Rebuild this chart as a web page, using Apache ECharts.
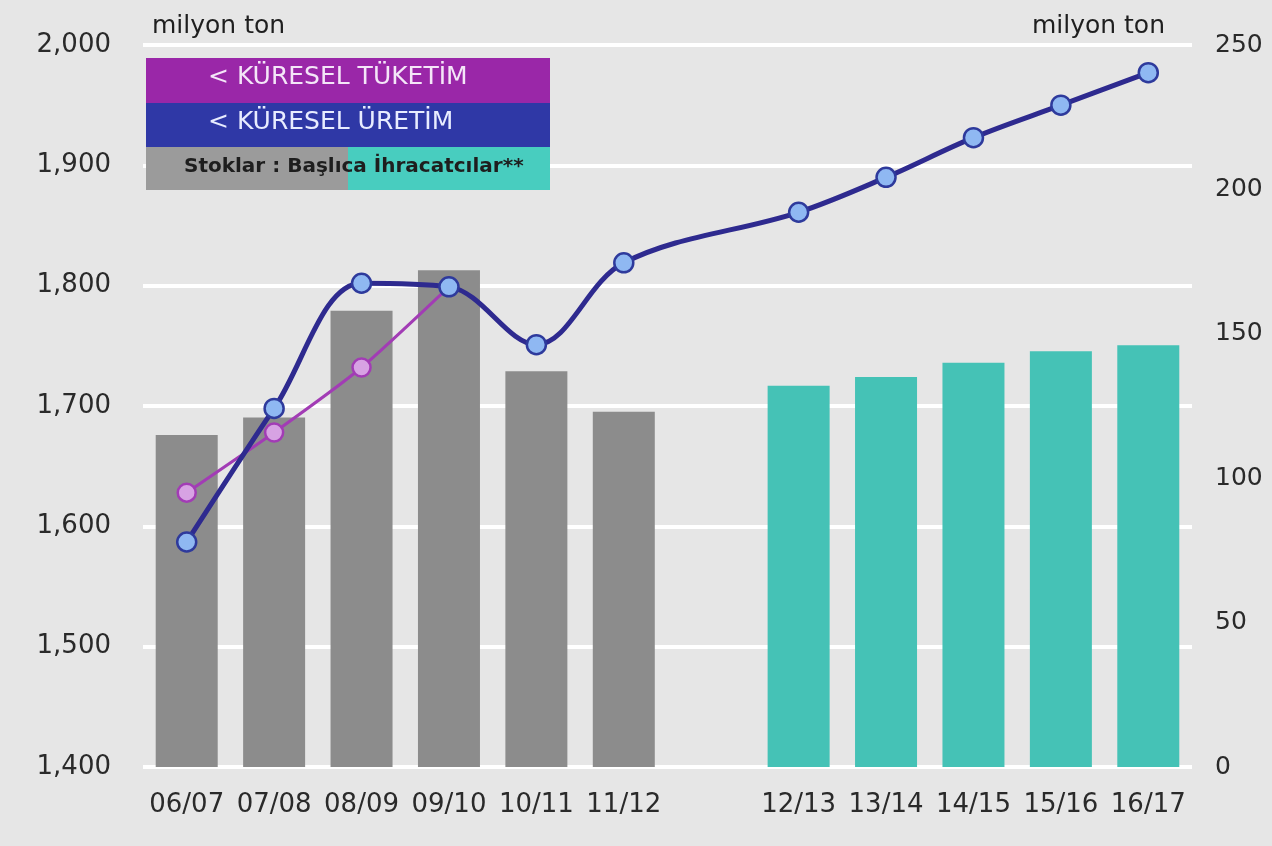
<!DOCTYPE html>
<html>
<head>
<meta charset="utf-8">
<script src="https://cdn.jsdelivr.net/npm/echarts@6/dist/echarts.min.js"></script>
<style>
  html, body { margin: 0; padding: 0; background: #e6e6e6; }
  #chart { width: 1272px; height: 846px; }
</style>
</head>
<body>
<div id="chart"></div>
<script>
// Marketing years; the empty slot separates actual years from projections
const categories = ['06/07', '07/08', '08/09', '09/10', '10/11', '11/12', '', '12/13', '13/14', '14/15', '15/16', '16/17'];

// Global production and consumption, million tonnes (left axis)
const production  = [1587, 1698, 1802, 1799, 1751, 1819, null, 1861, 1890, 1923, 1950, 1977];
const consumption = [1628, 1678, 1732, 1799, null, null, null, null, null, null, null, null];

// Stocks of major exporters, million tonnes (right axis)
const stocksActual    = [115, 121, 158, 172, 137, 123, null, null, null, null, null, null];
const stocksProjected = [null, null, null, null, null, null, null, 132, 135, 140, 144, 146];

const leftTicks  = { min: 1400, max: 2000, interval: 100 };
const rightTicks = { min: 0, max: 250, interval: 50 };

const FONT = '"DejaVu Sans", Verdana, sans-serif';
const TEXT = '#2a2a2a';

const chart = echarts.init(document.getElementById('chart'), null, { renderer: 'canvas' });

chart.setOption({
  backgroundColor: '#e6e6e6',
  animation: false,
  grid: { left: 143, right: 80, top: 45, bottom: 79 },
  xAxis: {
    type: 'category',
    data: categories,
    axisLine: { show: false },
    axisTick: { show: false },
    axisLabel: { color: TEXT, fontFamily: FONT, fontSize: 26, margin: 25, interval: 0 }
  },
  yAxis: [
    {
      type: 'value',
      min: leftTicks.min, max: leftTicks.max, interval: leftTicks.interval,
      axisLine: { show: false },
      axisTick: { show: false },
      axisLabel: {
        color: TEXT, fontFamily: FONT, fontSize: 26, margin: 32,
        formatter: v => v.toLocaleString('en-US')
      },
      splitLine: { show: true, lineStyle: { color: '#ffffff', width: 4 } }
    },
    {
      type: 'value',
      min: rightTicks.min, max: rightTicks.max, interval: rightTicks.interval,
      axisLine: { show: false },
      axisTick: { show: false },
      axisLabel: { color: TEXT, fontFamily: FONT, fontSize: 25, margin: 23 },
      splitLine: { show: false }
    }
  ],
  series: [
    {
      name: 'Stoklar',
      type: 'bar',
      yAxisIndex: 1,
      stack: 'stok',
      barWidth: 62,
      data: stocksActual,
      itemStyle: { color: '#8c8c8c' }
    },
    {
      name: 'Başlıca İhracatcılar',
      type: 'bar',
      yAxisIndex: 1,
      stack: 'stok',
      barWidth: 62,
      data: stocksProjected,
      itemStyle: { color: '#45c2b6' }
    },
    {
      name: 'KÜRESEL TÜKETİM',
      type: 'line',
      yAxisIndex: 0,
      data: consumption,
      smooth: 0.2,
      symbol: 'circle',
      symbolSize: 18,
      lineStyle: { color: '#a23cb5', width: 3 },
      itemStyle: { color: '#d7a2e3', borderColor: '#a23cb5', borderWidth: 2.5 },
      z: 3
    },
    {
      name: 'KÜRESEL ÜRETİM',
      type: 'line',
      yAxisIndex: 0,
      data: production,
      connectNulls: true,
      smooth: 0.35,
      symbol: 'circle',
      symbolSize: 19,
      lineStyle: { color: '#2e2a8f', width: 5 },
      itemStyle: { color: '#8fb8f2', borderColor: '#2e3a9c', borderWidth: 2.5 },
      z: 4
    }
  ],
  graphic: [
    // axis units
    { type: 'text', z: 100, left: 152, top: 14, style: { text: 'milyon ton', font: '25px ' + FONT, fill: '#1e1e1e' } },
    { type: 'text', z: 100, right: 107, top: 14, style: { text: 'milyon ton', font: '25px ' + FONT, fill: '#1e1e1e' } },
    // legend block
    {
      type: 'group', z: 100,
      children: [
        { type: 'rect', z: 100, shape: { x: 146, y: 58, width: 404, height: 45 }, style: { fill: '#9a27a8' } },
        { type: 'rect', z: 100, shape: { x: 146, y: 103, width: 404, height: 44 }, style: { fill: '#2f38a6' } },
        { type: 'rect', z: 100, shape: { x: 146, y: 147, width: 202, height: 43 }, style: { fill: '#9b9b9b' } },
        { type: 'rect', z: 100, shape: { x: 348, y: 147, width: 202, height: 43 }, style: { fill: '#48cdbf' } },
        { type: 'text', z: 101, x: 208, y: 65, style: { text: '< KÜRESEL TÜKETİM', font: '25px ' + FONT, fill: '#f4e6f8' } },
        { type: 'text', z: 101, x: 208, y: 110, style: { text: '< KÜRESEL ÜRETİM', font: '25px ' + FONT, fill: '#e8ecff' } },
        { type: 'text', z: 101, x: 184, y: 157, style: { text: 'Stoklar : Başlıca İhracatcılar**', font: 'bold 20px ' + FONT, fill: '#1e1e1e' } }
      ]
    }
  ]
});
</script>
</body>
</html>
